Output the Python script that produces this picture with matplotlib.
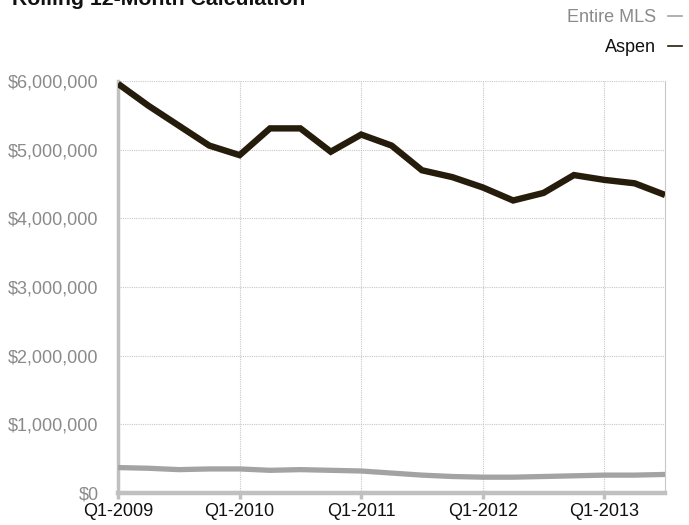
import matplotlib
matplotlib.use("Agg")
from matplotlib import pyplot as plt
from matplotlib.lines import Line2D

plt.rcParams['font.family'] = ['Liberation Sans', 'DejaVu Sans']

# quarterly points, Q1-2009 .. Q3-2013
quarters = ["Q1-2009", "Q2-2009", "Q3-2009", "Q4-2009",
            "Q1-2010", "Q2-2010", "Q3-2010", "Q4-2010",
            "Q1-2011", "Q2-2011", "Q3-2011", "Q4-2011",
            "Q1-2012", "Q2-2012", "Q3-2012", "Q4-2012",
            "Q1-2013", "Q2-2013", "Q3-2013"]
aspen = [5960000, 5640000, 5350000, 5060000, 4920000, 5310000, 5310000, 4970000,
         5220000, 5060000, 4700000, 4600000, 4450000, 4260000, 4370000, 4630000,
         4560000, 4510000, 4340000]
entire_mls = [370000, 360000, 340000, 350000, 350000, 330000, 340000, 330000,
              320000, 290000, 260000, 240000, 230000, 230000, 240000, 250000,
              260000, 260000, 270000]
y_ticks = [0, 1000000, 2000000, 3000000, 4000000, 5000000, 6000000]
x_labels = ["Q1-2009", "Q1-2010", "Q1-2011", "Q1-2012", "Q1-2013"]

aspen_col = "#261c0c"
mls_col = "#a3a3a3"

fig = plt.figure(figsize=(6.89, 5.25), dpi=100)
ax = fig.add_axes([0.1713, 0.061, 0.794, 0.7847])

x = list(range(len(quarters)))
ax.plot(x, entire_mls, color=mls_col, lw=3.8, solid_joinstyle='round', solid_capstyle='round', zorder=3)
ax.plot(x, aspen, color=aspen_col, lw=4.6, solid_joinstyle='miter', solid_capstyle='butt', zorder=4)

ax.set_xlim(0, len(quarters) - 1)
ax.set_ylim(0, 6000000)

ax.set_yticks(y_ticks)
ax.set_yticklabels(["$" + format(v, ",") for v in y_ticks], color="#8a8a8a", fontsize=13)
ax.set_xticks([quarters.index(q) for q in x_labels])
ax.set_xticklabels(x_labels, fontsize=13, color="#111111")

ax.grid(True, color="#c8c8c8", linestyle=(0, (1, 1)), lw=0.8)
ax.tick_params(axis='y', length=0, pad=14)
ax.tick_params(axis='x', length=4, width=2.5, color="#c0c0c0", pad=3)

ax.spines["right"].set_color("#c8c8c8")
ax.spines["right"].set_linestyle((0, (1, 1)))
ax.spines["right"].set_linewidth(0.8)
ax.spines["top"].set_visible(False)
ax.spines["left"].set_color("#c0c0c0")
ax.spines["left"].set_linewidth(2.5)
ax.spines["bottom"].set_color("#c0c0c0")
ax.spines["bottom"].set_linewidth(3.2)

# title, cut off at the top edge like the original
fig.text(12 / 689, 1 - 5 / 525, "Rolling 12-Month Calculation", fontsize=15.3, fontweight='bold',
         color="#111111", va='baseline', ha='left')

# legend: right aligned text with a short dash after it
fig.text(656 / 689, 1 - 17 / 525, "Entire MLS", fontsize=13, color="#8a8a8a", ha='right', va='center')
fig.text(656 / 689, 1 - 47 / 525, "Aspen", fontsize=13, color="#111111", ha='right', va='center')
for yy, c in [(1 - 16 / 525, mls_col), (1 - 46 / 525, aspen_col)]:
    fig.add_artist(Line2D([668 / 689, 682 / 689], [yy, yy], color=c, lw=1.2, transform=fig.transFigure))

plt.savefig("out.png", dpi=100)
